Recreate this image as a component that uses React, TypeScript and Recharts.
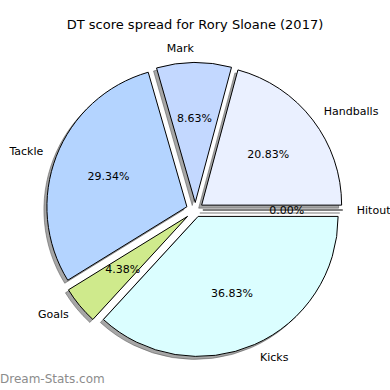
import { PieChart, Pie, Cell } from "recharts";

// DT score share per stat (percent of total)
const categories = ["Handballs", "Mark", "Tackle", "Goals", "Kicks", "Hitout"];
const shares = [20.83, 8.63, 29.34, 4.38, 36.83, 0.0];

const colors = ["#EAF0FF", "#C3D8FF", "#B4D4FF", "#CFEA8C", "#DBFEFF", "#FFFFFF"];
// how far each wedge is pulled out from the centre, px
const explode = [8, 7.5, 9, 10, 7, 7.5];

const CX = 195.3;
const CY = 210;
const R = 140;
const SHADOW = 3;
const RADIAN = Math.PI / 180;
const FONT = "'DejaVu Sans', sans-serif";

const data = categories.map((name, i) => ({ name, value: shares[i] }));

// mid angle of each wedge, counter-clockwise from 3 o'clock
const total = shares.reduce((a, b) => a + b, 0);
const midAngles = shares.map((v, i) => {
  const before = shares.slice(0, i).reduce((a, b) => a + b, 0);
  return ((before + v / 2) / total) * 360;
});

function offsetOf(i: number) {
  const a = midAngles[i] * RADIAN;
  return { dx: explode[i] * Math.cos(a), dy: -explode[i] * Math.sin(a) };
}

function renderLabel(props: any) {
  const { cx, cy, midAngle, outerRadius, percent, index } = props;
  const e = explode[index];
  const cos = Math.cos(-midAngle * RADIAN);
  const sin = Math.sin(-midAngle * RADIAN);
  const nameR = e + outerRadius * 1.1;
  const pctR = e + outerRadius * 0.6;
  const pct = `${(percent * 100).toFixed(2)}%`;
  const isEmpty = shares[index] === 0;
  return (
    <g key={`lbl-${index}`}>
      {isEmpty && (
        <>
          <line
            x1={cx + e * cos - SHADOW}
            y1={cy + e * sin + SHADOW}
            x2={cx + (e + outerRadius) * cos - SHADOW}
            y2={cy + (e + outerRadius) * sin + SHADOW}
            stroke="#a6a6a6"
            strokeWidth={1.5}
          />
          <line
            x1={cx + e * cos}
            y1={cy + e * sin}
            x2={cx + (e + outerRadius) * cos}
            y2={cy + (e + outerRadius) * sin}
            stroke="#000"
            strokeWidth={1}
          />
        </>
      )}
      <text
        x={cx + nameR * cos}
        y={cy + nameR * sin}
        textAnchor={cos > 0 ? "start" : "end"}
        dominantBaseline="central"
        fontFamily={FONT}
        fontSize={11}
        fill="#000"
      >
        {categories[index]}
      </text>
      <text
        x={cx + pctR * cos}
        y={cy + pctR * sin}
        textAnchor="middle"
        dominantBaseline="central"
        fontFamily={FONT}
        fontSize={11}
        fill="#000"
      >
        {pct}
      </text>
    </g>
  );
}

export default function App() {
  return (
    <div style={{ position: "absolute", left: 0, top: 0, width: 390, height: 390, background: "#fff" }}>
      <div
        style={{
          position: "absolute",
          top: 17,
          left: 0,
          width: 390,
          textAlign: "center",
          fontFamily: FONT,
          fontSize: 13,
          lineHeight: "16px",
          color: "#000",
        }}
      >
        DT score spread for Rory Sloane (2017)
      </div>
      <PieChart width={390} height={390} margin={{ top: 0, right: 0, bottom: 0, left: 0 }}>
        {/* shadows */}
        {categories.map((_, i) => {
          const { dx, dy } = offsetOf(i);
          return (
            <Pie
              key={`shadow-${i}`}
              data={data}
              dataKey="value"
              nameKey="name"
              cx={CX + dx - SHADOW}
              cy={CY + dy + SHADOW}
              outerRadius={R}
              startAngle={0}
              endAngle={360}
              isAnimationActive={false}
              labelLine={false}
            >
              {data.map((_, j) => (
                <Cell
                  key={j}
                  fill={j === i ? "#4d4d4d" : "none"}
                  fillOpacity={0.5}
                  stroke={j === i ? "#4d4d4d" : "none"}
                  strokeOpacity={0.5}
                  strokeWidth={1}
                />
              ))}
            </Pie>
          );
        })}
        {/* exploded wedges */}
        {categories.map((_, i) => {
          const { dx, dy } = offsetOf(i);
          return (
            <Pie
              key={`wedge-${i}`}
              data={data}
              dataKey="value"
              nameKey="name"
              cx={CX + dx}
              cy={CY + dy}
              outerRadius={R}
              startAngle={0}
              endAngle={360}
              isAnimationActive={false}
              labelLine={false}
            >
              {data.map((_, j) => (
                <Cell
                  key={j}
                  fill={j === i ? colors[j] : "none"}
                  stroke={j === i ? "#000" : "none"}
                  strokeWidth={1}
                />
              ))}
            </Pie>
          );
        })}
        {/* labels */}
        <Pie
          data={data}
          dataKey="value"
          nameKey="name"
          cx={CX}
          cy={CY}
          outerRadius={R}
          startAngle={0}
          endAngle={360}
          isAnimationActive={false}
          labelLine={false}
          label={renderLabel}
        >
          {data.map((_, j) => (
            <Cell key={j} fill="none" stroke="none" />
          ))}
        </Pie>
      </PieChart>
      <div
        style={{
          position: "absolute",
          left: 0,
          top: 371,
          fontFamily: FONT,
          fontSize: 12,
          lineHeight: "16px",
          color: "#8c8c8c",
        }}
      >
        Dream-Stats.com
      </div>
    </div>
  );
}
